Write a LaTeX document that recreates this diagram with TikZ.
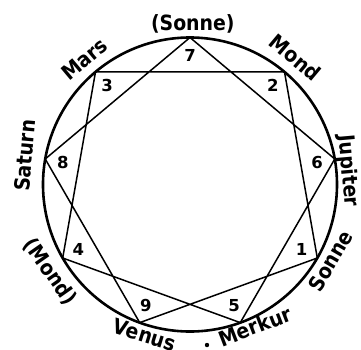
\documentclass[tikz,border=0pt]{standalone}
\usepackage{fontspec}
\setmainfont{DejaVu Sans}
\newfontfamily\handfont{DejaVu Sans Condensed}
\usepackage{tikz}

\begin{document}
\begin{tikzpicture}[
  x=1pt, y=1pt,
  rim/.style={line width=2.6pt},
  starline/.style={line width=1.5pt, line join=miter},
  planet/.style={font=\handfont\fontsize{21}{25}\selectfont\bfseries, inner sep=0pt},
  num/.style={font=\fontsize{16.5}{19}\selectfont\bfseries, inner sep=0pt},
]
  \useasboundingbox (-190,-164.5) rectangle (171,184.5);

  % corners of the nine-pointed star
  \coordinate (sonneT)  at (90:147);
  \coordinate (mondR)   at (50:147);
  \coordinate (jupiter) at (10:147);
  \coordinate (sonneR)  at (-30:147);
  \coordinate (merkur)  at (-70:147);
  \coordinate (venus)   at (-110:147);
  \coordinate (mondL)   at (-150:147);
  \coordinate (saturn)  at (170:147);
  \coordinate (mars)    at (130:147);

  \draw[rim] (0,0) circle (147);
  \draw[starline] (sonneT) -- (jupiter) -- (merkur) -- (mondL) -- (mars)
    -- (mondR) -- (sonneR) -- (venus) -- (saturn) -- cycle;

  % numbers in the tips
  \node[num] (n7) at (90:129)   {7};
  \node[num] (n2) at (50:129)   {2};
  \node[num] (n6) at (10:129)   {6};
  \node[num] (n1) at (-30:129)  {1};
  \node[num] (n5) at (-70:129)  {5};
  \node[num] (n9) at (-110:129) {9};
  \node[num] (n4) at (-150:129) {4};
  \node[num] (n8) at (170:129)  {8};
  \node[num] (n3) at (130:129)  {3};

  % planet names round the rim
  \node[planet]             (lSonneT)  at (89:160.5)   {(Sonne)};
  \node[planet, rotate=-40] (lMondR)   at (50.3:165)   {Mond};
  \node[planet, rotate=-85] (lJupiter) at (4.9:158.5)  {Jupiter};
  \node[planet, rotate=60]  (lSonneR)  at (-28.6:160)  {Sonne};
  \node[planet, rotate=21]  (lMerkur)  at (-65.3:156)  {Merkur};
  \node[planet, rotate=-17] (lVenus)   at (-106.7:157) {Venus};
  \node[planet, rotate=-55] (lMondL)   at (-148:165)   {(Mond)};
  \node[planet, rotate=85]  (lSaturn)  at (170:168)    {Saturn};
  \node[planet, rotate=40]  (lMars)    at (130:164)    {Mars};

  \fill (17,-160.5) circle (2.2);
\end{tikzpicture}
\end{document}
